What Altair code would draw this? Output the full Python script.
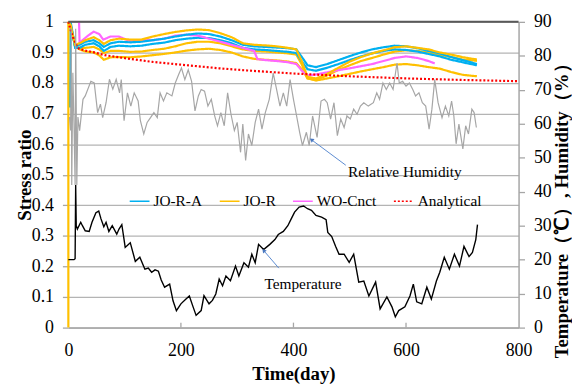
import altair as alt
import pandas as pd

FONT = "Times New Roman, Liberation Serif, Times, serif"
W, H = 455, 309
AX = "#A6A6A6"
GRID = "#B4B4B4"

series_names = ["JO-R-A", "JO-R", "WO-Cnct", "Analytical"]
series_colors = ["#00B0F0", "#FFC000", "#FF66FF", "#FF0000"]
series_dash = [[1, 0], [1, 0], [1, 0], [2, 2]]

main_days = [12, 20, 30, 45, 55, 63, 75, 90, 110, 130, 150, 170, 190, 210, 230, 250,
             270, 290, 310, 330, 350, 370, 390, 405, 415, 425, 440, 460, 480, 500, 520, 540,
             560, 580, 600, 620, 640, 660, 680, 700, 715, 726]

o1_vals = [0.925, 0.93, 0.94, 0.95, 0.94, 0.928, 0.94, 0.945, 0.942, 0.942, 0.952, 0.96, 0.967, 0.972, 0.975, 0.973,
           0.963, 0.95, 0.93, 0.925, 0.923, 0.92, 0.915, 0.91, 0.87, 0.82, 0.815, 0.83, 0.85, 0.87, 0.885, 0.897,
           0.907, 0.917, 0.92, 0.915, 0.91, 0.9, 0.893, 0.885, 0.88, 0.877]
b1_vals = [0.92, 0.925, 0.935, 0.94, 0.93, 0.918, 0.93, 0.935, 0.933, 0.935, 0.94, 0.945, 0.952, 0.958, 0.962, 0.96,
           0.952, 0.94, 0.925, 0.92, 0.918, 0.916, 0.914, 0.91, 0.885, 0.858, 0.852, 0.862, 0.875, 0.888, 0.9, 0.91,
           0.917, 0.922, 0.92, 0.914, 0.905, 0.897, 0.885, 0.875, 0.868, 0.862]
b2_vals = [0.915, 0.915, 0.925, 0.93, 0.92, 0.905, 0.918, 0.922, 0.92, 0.922, 0.928, 0.932, 0.94, 0.945, 0.948, 0.947,
           0.94, 0.93, 0.915, 0.91, 0.908, 0.905, 0.902, 0.898, 0.87, 0.845, 0.84, 0.85, 0.862, 0.875, 0.887, 0.897,
           0.905, 0.91, 0.908, 0.903, 0.895, 0.887, 0.876, 0.868, 0.862, 0.858]
o2_vals = [0.92, 0.915, 0.915, 0.918, 0.91, 0.898, 0.905, 0.905, 0.902, 0.903, 0.908, 0.912, 0.92, 0.93, 0.935, 0.935,
           0.93, 0.92, 0.91, 0.905, 0.903, 0.9, 0.897, 0.893, 0.86, 0.815, 0.81, 0.825, 0.843, 0.858, 0.872, 0.882,
           0.893, 0.903, 0.907, 0.905, 0.9, 0.892, 0.885, 0.877, 0.875, 0.872]
o3_vals = [0.918, 0.91, 0.903, 0.9, 0.89, 0.876, 0.884, 0.885, 0.884, 0.887, 0.891, 0.895, 0.9, 0.906, 0.91, 0.912,
           0.908, 0.9, 0.887, 0.879, 0.876, 0.874, 0.87, 0.865, 0.845, 0.815, 0.808, 0.815, 0.822, 0.83, 0.838, 0.845,
           0.852, 0.86, 0.862, 0.858, 0.852, 0.847, 0.836, 0.827, 0.824, 0.822]

m_days = [19, 20, 25, 35, 45, 55, 62, 75, 90, 110, 130, 150, 170, 190, 210, 230, 250, 270, 290, 310,
          330, 336, 350, 370, 390, 405, 415, 425, 440, 460, 480, 500, 520, 540, 560, 580, 600, 620, 640, 651]
m_vals = [1.0, 0.93, 0.94, 0.955, 0.968, 0.96, 0.942, 0.952, 0.952, 0.936, 0.94, 0.94, 0.945, 0.955, 0.958, 0.955,
          0.945, 0.935, 0.925, 0.915, 0.905, 0.878, 0.875, 0.872, 0.868, 0.862, 0.84, 0.825, 0.828, 0.835, 0.842,
          0.848, 0.855, 0.862, 0.872, 0.882, 0.887, 0.882, 0.872, 0.864]

ana_days = [0, 3, 8, 14, 19, 30, 46, 65, 105, 150, 200, 268, 318, 400, 500, 600, 700, 800]
ana_vals = [1.0, 0.98, 0.95, 0.925, 0.912, 0.906, 0.9, 0.891, 0.88, 0.869, 0.86, 0.848, 0.841, 0.831, 0.822,
            0.815, 0.81, 0.806]

hum_days = [2, 4, 5, 6, 8, 10, 12, 13, 15, 17, 20, 26, 30, 40, 46, 52, 57, 61, 67, 73,
            79, 85, 91, 94, 99, 105, 111, 117, 124, 128, 134, 140, 146, 152, 158, 163, 169, 175, 184, 190,
            196, 201, 207, 213, 219, 225, 231, 236, 242, 248, 254, 260, 265, 271, 277, 283, 289, 295, 300, 306,
            310, 315, 320, 326, 332, 338, 344, 350, 357, 364, 370, 376, 382, 388, 394, 400, 405, 411, 416, 423,
            428, 434, 442, 449, 455, 460, 466, 472, 478, 484, 490, 495, 501, 507, 513, 519, 525, 533, 542, 548,
            553, 559, 565, 571, 577, 584, 588, 594, 600, 606, 612, 617, 623, 629, 635, 641, 646, 651, 657, 664,
            670, 676, 681, 685, 689, 694, 701, 706, 711, 717, 721, 725]
hum_vals = [62, 58, 88, 42, 75, 60, 42, 88, 42, 62, 58, 67.2, 68.2, 72.5, 72, 63.3, 65.8, 61.8, 66.2, 73.1,
            70.2, 73.1, 69.1, 73, 60.9, 69.1, 65.2, 69.1, 66.7, 60.9, 57, 60.4, 61.8, 63.3, 61.8, 69.1, 66.7, 69.1, 68.2, 72,
            74.5, 76.4, 73, 75.9, 72.5, 63.8, 68.2, 70.1, 69.6, 65.2, 67.2, 62.3, 59.4, 63.3, 59.4, 69.1, 62.8, 58, 60.4, 51.6,
            59.9, 49.2, 57, 53.6, 60.4, 64.3, 58.4, 63.3, 67.2, 74.9, 70.1, 65.2, 69.1, 65.2, 73, 67.2, 62.8, 57.5, 53.6, 57.5,
            53.6, 62.3, 56, 66.7, 67.2, 66.2, 61.4, 66.2, 56.5, 61.4, 58.9, 62.3, 61.4, 64.3, 62.8, 65.2, 66.2, 65.2, 66.2, 69.1,
            67.2, 72, 70.1, 72, 70.1, 77.9, 72, 72.5, 71.1, 72, 70.1, 68.2, 69.1, 66.2, 65.2, 58.4, 64.3, 73, 66.2, 61.8,
            65.2, 62.3, 66.7, 62.3, 54.1, 59.9, 52.6, 59.4, 57, 64.3, 63.3, 58.9]

temp_days = [0, 10, 12, 13, 14, 16, 22, 25, 30, 37, 42, 49, 54, 58, 63, 67, 72, 78, 86, 90,
             95, 98, 101, 110, 119, 127, 136, 142, 148, 154, 160, 165, 171, 180, 186, 192, 200, 209, 215, 221,
             227, 236, 241, 250, 256, 262, 268, 274, 280, 288, 297, 303, 312, 320, 326, 332, 338, 347, 358, 367,
             373, 382, 390, 396, 402, 410, 418, 425, 432, 440, 450, 458, 461, 468, 475, 481, 490, 499, 507, 516,
             525, 534, 546, 554, 566, 575, 581, 587, 598, 607, 613, 619, 628, 637, 645, 654, 660, 668, 677, 686,
             695, 703, 712, 718, 724, 727]
temp_vals = [20, 20, 20.3, 42, 30, 29, 31, 30, 28.5, 28.3, 31, 33.8, 34.3, 32, 29.7, 31, 28.3, 30, 27.5, 29,
             30.3, 27, 23.6, 25, 19.5, 20.7, 17.2, 17.5, 16.3, 17, 16.6, 14, 11.9, 12.8, 7.9, 5, 7, 8.4, 9.3, 6.4,
             3.6, 5, 9.4, 7, 8, 9.9, 14.3, 12.3, 15.2, 13.8, 18.1, 15.2, 19.1, 17.8, 21.6, 19.1, 24.5, 23, 24.5, 25.9,
             27.4, 28.3, 30, 32, 34, 35.5, 35.8, 35, 34.5, 33, 32.5, 31.8, 28, 26.8, 23.9, 21.6, 21.6, 19.2, 21.6, 13.4,
             13.7, 9.3, 13.4, 5.5, 9, 6.1, 3.2, 5, 6.1, 9.3, 12.8, 7.6, 7, 11.9, 8.4, 13.7, 16.3, 20.7, 17.2, 21.6,
             18.1, 23.9, 20.9, 22.1, 25.9, 30.3]

x_ticks = [0, 200, 400, 600, 800]
yl_ticks = [0, 0.1, 0.2, 0.3, 0.4, 0.5, 0.6, 0.7, 0.8, 0.9, 1]
yr_ticks = [0, 10, 20, 30, 40, 50, 60, 70, 80, 90]

# annotations (day, right-axis value)
ann_text = ["Relative Humidity", "Temperature"]
ann_tx = [598, 417]
ann_ty = [45.7, 12.8]
arrow_x0 = [493, 374]
arrow_y0 = [47.8, 17.5]
arrow_x1 = [432, 347]
arrow_y1 = [55.3, 22.7]
arrow_ang = [307, 320]

# ---------- build tables ----------
rows = []
def add(series, line, days, vals):
    for i, (d, v) in enumerate(zip(days, vals)):
        rows.append({"series": series, "line": line, "day": d, "value": v, "ord": i})

add("JO-R", "O3", [0, 4, 8] + main_days, [1.0, 0.99, 0.955] + o3_vals)
add("JO-R", "O2", [0, 4, 8] + main_days, [1.0, 0.99, 0.955] + o2_vals)
add("JO-R-A", "B2", [3, 4, 8] + main_days, [0.72, 1.0, 0.96] + b2_vals)
add("WO-Cnct", "M", m_days, m_vals)
add("JO-R-A", "B1", [0, 4, 8] + main_days, [1.0, 0.99, 0.955] + b1_vals)
add("JO-R", "O1", [0, 0, 4, 8] + main_days, [0.0, 1.0, 0.99, 0.955] + o1_vals)
add("Analytical", "A", ana_days, ana_vals)
stress_df = pd.DataFrame(rows)

hum_df = pd.DataFrame({"day": hum_days, "value": hum_vals})
temp_df = pd.DataFrame({"day": temp_days, "value": temp_vals})
ann_df = pd.DataFrame({"label": ann_text, "day": ann_tx, "value": ann_ty})
arrow_df = pd.DataFrame({"x0": arrow_x0, "y0": arrow_y0, "x1": arrow_x1, "y1": arrow_y1, "ang": arrow_ang})
xt_df = pd.DataFrame({"day": x_ticks[1:-1]})
top_df = pd.DataFrame({"k": [1]})

# ---------- scales / axes ----------
xs = alt.Scale(domain=[0, 800], nice=False, zero=False)
x_axis = alt.Axis(values=x_ticks, title="Time(day)", grid=False, ticks=False, labelFlush=False,
                  domainColor=AX, domainWidth=1.5, labelFontSize=18, labelPadding=14,
                  titleFontSize=19, titleFontWeight="bold", titleX=W / 2, titleY=46,
                  titleBaseline="middle", titleAlign="center")

def X(field):
    return alt.X(field, type="quantitative", scale=xs, axis=x_axis)

yls = alt.Scale(domain=[0, 1], nice=False, zero=False)
yl_axis = alt.Axis(values=yl_ticks, format="~g", title="Stress ratio", grid=True, labelFlush=False,
                   gridColor=GRID, gridWidth=1.3, domain=False, ticks=True, tickSize=6,
                   tickColor=AX, tickWidth=1.3, labelFontSize=18, labelPadding=9,
                   titleFontSize=19, titleFontWeight="bold", titleAngle=270, titleX=-44,
                   titleY=H / 2, titleAlign="center", titleBaseline="middle")

yrs = alt.Scale(domain=[0, 90], nice=False, zero=False)
yr_axis = alt.Axis(orient="right", values=yr_ticks, format="d", labelFlush=False,
                   title="Temperature（℃）, Humidity（%）", grid=False, domain=True,
                   domainColor=AX, domainWidth=1.5, ticks=True, tickSize=6, tickColor=AX,
                   tickWidth=1.3, labelFontSize=18, labelPadding=9, titleFontSize=19,
                   titleFontWeight="bold", titleAngle=270, titleX=43, titleY=186,
                   titleAlign="center", titleBaseline="middle")

def YR(field):
    return alt.Y(field, type="quantitative", scale=yrs, axis=yr_axis)

legend = alt.Legend(title=None, orient="none", legendX=61, legendY=170, direction="horizontal",
                    symbolType="stroke", symbolSize=400, symbolStrokeWidth=1.5,
                    labelFont=FONT, labelFontSize=15.5, labelColor="black", labelOffset=3,
                    columnPadding=14, padding=0)

stress = alt.Chart(stress_df).mark_line(strokeWidth=2.2).encode(
    x=X("day"),
    y=alt.Y("value:Q", scale=yls, axis=yl_axis),
    color=alt.Color("series:N", scale=alt.Scale(domain=series_names, range=series_colors), legend=legend),
    strokeDash=alt.StrokeDash("series:N", scale=alt.Scale(domain=series_names, range=series_dash), legend=legend),
    detail="line:N",
    order="ord:Q",
)

ticks_in = alt.Chart(xt_df).mark_rule(color=AX, strokeWidth=1.3).encode(
    x=X("day"), y=alt.value(H), y2=alt.value(H - 5))

top_border = alt.Chart(top_df).mark_rule(color="#595959", strokeWidth=2).encode(y=alt.value(0))

left = alt.layer(stress, ticks_in, top_border)

hum = alt.Chart(hum_df).mark_line(color="#A6A6A6", strokeWidth=1.2).encode(x=X("day"), y=YR("value"))
temp = alt.Chart(temp_df).mark_line(color="black", strokeWidth=1.4).encode(x=X("day"), y=YR("value"))
ann = alt.Chart(ann_df).mark_text(font=FONT, fontSize=15.5, color="black", align="center",
                                  baseline="middle").encode(x=X("day"), y=YR("value"), text="label:N")
arrows = alt.Chart(arrow_df).mark_rule(color="#5B8BD0", strokeWidth=1).encode(
    x=X("x0"), y=YR("y0"), x2="x1:Q", y2="y1:Q")
heads = alt.Chart(arrow_df).mark_point(shape="triangle-up", filled=True, size=22, color="#4A78C0",
                                       opacity=1).encode(
    x=X("x1"), y=YR("y1"), angle=alt.Angle("ang:Q", scale=None))

right = alt.layer(hum, temp, arrows, heads, ann)

chart = alt.layer(left, right).resolve_scale(y="independent").properties(
    width=W, height=H,
    padding={"left": 61, "top": 12, "right": 54, "bottom": 56},
    autosize=alt.AutoSizeParams(type="none"),
).configure_view(stroke=None).configure_axis(
    labelFont=FONT, titleFont=FONT, labelColor="black", titleColor="black"
)

chart.save("out.html", embed_options={"renderer": "svg", "actions": False})
